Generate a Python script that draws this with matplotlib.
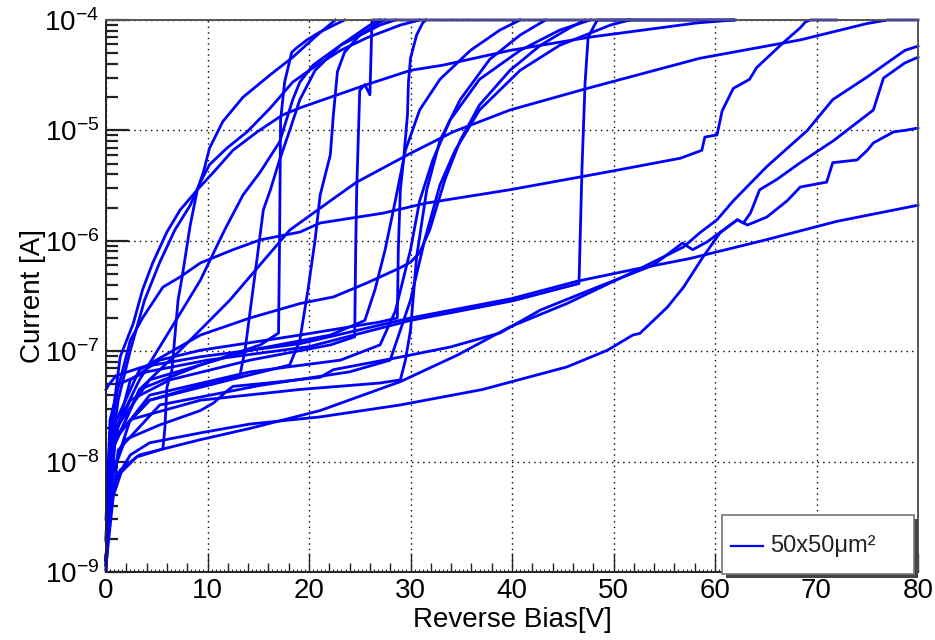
import numpy as np
import matplotlib
matplotlib.use("Agg")
import matplotlib.pyplot as plt
from matplotlib.lines import Line2D
from matplotlib.patches import Rectangle
from matplotlib.ticker import FixedLocator, LogLocator, NullFormatter

plt.rcParams['font.family'] = ['Liberation Sans', 'DejaVu Sans']
plt.rcParams['mathtext.fontset'] = 'custom'
plt.rcParams['mathtext.rm'] = 'Liberation Sans'
plt.rcParams['mathtext.it'] = 'Liberation Sans:italic'

# reverse bias [V] and leakage current [A] for every measured pixel
v01 = [0, 0.2, 0.6, 1.4, 2.7, 3.6, 4.6, 6.0, 7.3, 9.0, 9.6, 10.2, 11.5, 13.5, 16.2, 18.4, 20.8, 22.6]
i01 = [1.9e-9, 8.4e-9, 2.4e-8, 8.9e-8, 1.8e-7, 3.6e-7, 6.3e-7, 1.2e-6, 1.9e-6, 2.9e-6, 4.2e-6, 6.9e-6, 1.2e-5, 2.0e-5, 3.2e-5, 4.6e-5, 7.3e-5, 1e-4]

v02 = [0, 0.4, 1.2, 2.4, 3.8, 5.3, 6.8, 8.3, 9.3, 10.2, 11.9, 13.9, 16.2, 18.4, 20.4, 23.1, 25.7, 29.0, 30.9]
i02 = [1.28e-9, 1.03e-8, 3.6e-8, 1.02e-7, 2.9e-7, 6.4e-7, 1.26e-6, 2.1e-6, 3.4e-6, 4.9e-6, 6.9e-6, 9.7e-6, 1.6e-5, 2.74e-5, 3.7e-5, 5.3e-5, 6.9e-5, 9.0e-5, 1e-4]

v03 = [0, 0.4, 2.4, 3.6, 5.6, 7.3, 9.3, 12.5, 15.2, 19.1, 21.1, 27.3, 31.6, 39.8, 49.4, 56.6, 58.7, 59.0, 60.2, 60.7, 61.8, 63.4, 64.1, 66.7, 68.4, 68.9, 69.4, 72.0]
i03 = [3e-9, 2.4e-8, 1.26e-7, 2.0e-7, 3.8e-7, 4.7e-7, 6.3e-7, 8.3e-7, 1.02e-6, 1.2e-6, 1.45e-6, 1.78e-6, 2.2e-6, 2.9e-6, 4.2e-6, 5.6e-6, 6.6e-6, 8.7e-6, 9.1e-6, 1.5e-5, 2.4e-5, 2.9e-5, 3.7e-5, 6.2e-5, 8.5e-5, 9.6e-5, 1e-4, 1e-4]

v04 = [0, 0.3, 1, 3.6, 9.3, 19.1, 30, 40, 46.4, 52, 57.5, 65, 72, 80]
i04 = [4.5e-8, 5e-8, 6e-8, 7.2e-8, 8.9e-8, 1.17e-7, 2.0e-7, 3.0e-7, 4.3e-7, 5.5e-7, 6.9e-7, 1.02e-6, 1.5e-6, 2.1e-6]

v05 = [0, 0.4, 1.2, 4, 10, 20, 30, 40, 46.6, 46.9, 47.2, 47.5, 48.4, 62]
i05 = [2e-9, 1.5e-8, 5e-8, 6.5e-8, 8.3e-8, 1.1e-7, 1.9e-7, 2.85e-7, 4.1e-7, 4.7e-6, 2.7e-5, 7e-5, 1e-4, 1e-4]

v06 = [0, 0.6, 3.3, 7.3, 12.2, 18.1, 22.1, 24.7, 30.0, 34.2, 39.8, 47.4, 58.5, 68.4, 75.0, 77.0, 80]
i06 = [1.28e-9, 1.27e-8, 4.5e-8, 1.02e-7, 2.9e-7, 1.25e-6, 2.3e-6, 3.4e-6, 6.2e-6, 9.7e-6, 1.53e-5, 2.4e-5, 4.5e-5, 6.6e-5, 9.3e-5, 1e-4, 1e-4]

v07 = [0, 0.4, 1.5, 3.0, 5.6, 5.8, 6.0, 6.5, 7.1, 7.5, 8.3, 9.0, 11.0, 12.5, 14.9, 17.4, 19.1, 25.7, 30.0, 33.2, 39.8, 47.7, 58.2, 61.8]
i07 = [1.04e-9, 4.0e-9, 8.0e-9, 1.1e-8, 1.3e-8, 2.0e-8, 4.7e-8, 6.8e-8, 2.9e-7, 4.7e-7, 1.39e-6, 2.9e-6, 4.6e-6, 6.6e-6, 9.7e-6, 1.38e-5, 1.6e-5, 2.6e-5, 3.5e-5, 3.9e-5, 5.3e-5, 7.0e-5, 9.4e-5, 1e-4]

v08 = [0, 0.2, 0.9, 2.4, 4.3, 9.3, 14.2, 21.1, 29.0, 37.1, 45.4, 49.4, 51.9, 52.6, 55.3, 56.9, 58.8, 60.5, 62.2, 62.8, 63.5, 64.4, 66.1, 68.4, 71.7, 75.6, 76.6, 78.7, 80]
i08 = [1.04e-9, 2.96e-9, 6.8e-9, 1.15e-8, 1.48e-8, 1.82e-8, 2.19e-8, 2.54e-8, 3.26e-8, 4.5e-8, 7.2e-8, 1.02e-7, 1.4e-7, 1.45e-7, 2.5e-7, 3.8e-7, 7.1e-7, 1.18e-6, 1.55e-6, 1.45e-6, 1.79e-6, 2.9e-6, 3.6e-6, 5.1e-6, 8.1e-6, 1.53e-5, 2.98e-5, 4.08e-5, 4.6e-5]

v09 = [0, 0.4, 1.4, 3.3, 9.3, 14.2, 21.1, 29.0, 34.6, 39.8, 45.4, 51.9, 56.9, 58.5, 60.2, 61.8, 65.1, 69.1, 71.6, 75.0, 78.7, 80]
i09 = [1.16e-9, 4.5e-9, 8.4e-9, 1.15e-8, 1.58e-8, 2.0e-8, 2.9e-8, 5.3e-8, 9.2e-8, 1.66e-7, 2.7e-7, 5.2e-7, 8.8e-7, 1.18e-6, 1.55e-6, 2.3e-6, 4.7e-6, 1.0e-5, 1.9e-5, 3.05e-5, 5.3e-5, 5.8e-5]

v10 = [0, 0.4, 1.9, 5.3, 9.3, 10.6, 11.8, 12.5, 15.9, 21.1, 22.4, 29.0, 33.9, 38.8, 42.8, 48.7, 53.9, 56.8, 57.8, 59.2, 62.2, 63.2, 65.1, 67.1, 68.4, 71.0, 71.6, 74.0, 75.0, 75.6, 77.6, 78.7, 80]
i10 = [1.28e-9, 6.8e-9, 1.58e-8, 2.15e-8, 2.9e-8, 3.4e-8, 4.27e-8, 4.8e-8, 5.15e-8, 5.8e-8, 6.8e-8, 8.85e-8, 1.09e-7, 1.46e-7, 2.36e-7, 3.9e-7, 6.0e-7, 9.55e-7, 8.3e-7, 9.75e-7, 1.55e-6, 1.39e-6, 1.64e-6, 2.3e-6, 3.07e-6, 3.4e-6, 5.1e-6, 5.4e-6, 6.6e-6, 7.7e-6, 9.7e-6, 1.0e-5, 1.05e-5]

v11 = [0, 0.6, 2.4, 5.3, 9.3, 19.1, 27.0, 28.7, 28.8, 29.0, 29.3, 29.7, 29.8, 30.0, 30.6, 31.2, 31.5]
i11 = [1.28e-9, 1.27e-8, 5.5e-8, 8.3e-8, 1.02e-7, 1.4e-7, 1.84e-7, 2.0e-7, 8.3e-7, 2.9e-6, 5.2e-6, 1.38e-5, 2.74e-5, 4.5e-5, 7.3e-5, 9.4e-5, 1e-4]

v12 = [0, 0.4, 2.4, 9.3, 19.1, 27.0, 29.0, 29.5, 30.0, 30.6, 31.6, 32.9, 34.9, 37.8, 40.8, 43.3]
i12 = [1.16e-9, 6.8e-9, 2.4e-8, 3.6e-8, 4.5e-8, 5.15e-8, 5.5e-8, 8.3e-8, 1.55e-7, 7.1e-7, 2.9e-6, 8.1e-6, 1.9e-5, 4.4e-5, 7.3e-5, 1e-4]

v13 = [0, 0.6, 2.4, 6.3, 14.2, 22.1, 24.5, 24.6, 24.7, 25.0, 25.5, 26.0, 26.1, 26.2, 61.8]
i13 = [1.28e-9, 1.58e-8, 3.6e-8, 5.5e-8, 8.3e-8, 1.14e-7, 1.35e-7, 8.3e-7, 2.9e-6, 2.3e-5, 2.6e-5, 2.1e-5, 4.4e-5, 1e-4, 1e-4]

v14 = [0, 0.9, 4.3, 14.2, 22.1, 25.5, 26.5, 27.5, 28.5, 29.5, 30.9, 32.9, 35.9, 38.8, 40.8]
i14 = [1.28e-9, 1.95e-8, 5.5e-8, 1.02e-7, 1.4e-7, 1.9e-7, 3.6e-7, 8.3e-7, 2.3e-6, 6.6e-6, 1.53e-5, 2.9e-5, 5.3e-5, 8.1e-5, 1e-4]

v15 = [0, 0.9, 4.3, 14.2, 23.1, 27.0, 28.5, 30.0, 30.9, 32.2, 33.9, 36.8, 40.8, 44.7, 47.7]
i15 = [1.16e-9, 1.58e-8, 4.0e-8, 6.5e-8, 8.3e-8, 1.14e-7, 2.3e-7, 8.3e-7, 2.3e-6, 5.4e-6, 1.24e-5, 2.9e-5, 5.3e-5, 8.1e-5, 1e-4]

v16 = [0, 1.2, 5.3, 15.2, 24.0, 28.0, 30.0, 31.4, 32.9, 34.4, 36.8, 40.8, 44.7, 49.7, 51.6]
i16 = [1.16e-9, 1.27e-8, 3.26e-8, 4.9e-8, 6.5e-8, 8.3e-8, 2.9e-7, 1.02e-6, 3.2e-6, 6.6e-6, 1.53e-5, 3.5e-5, 5.9e-5, 9.0e-5, 1e-4]

v17 = [0, 0.6, 4.3, 9.3, 13.2, 13.7, 14.2, 14.9, 15.5, 16.2, 17.1, 18.1, 19.1, 20.6, 23.1, 26.0, 27.0]
i17 = [1.28e-9, 1.58e-8, 3.6e-8, 4.9e-8, 6.1e-8, 1.02e-7, 2.3e-7, 7.1e-7, 1.9e-6, 2.9e-6, 5.4e-6, 1.0e-5, 1.9e-5, 3.5e-5, 5.9e-5, 9.0e-5, 1e-4]

v18 = [0, 0.9, 3.3, 6.3, 9.3, 11.7, 13.5, 15.2, 17.1, 18.4, 19.1, 20.4, 23.1, 27.0, 28.5]
i18 = [1.28e-9, 1.95e-8, 5.5e-8, 1.55e-7, 4.4e-7, 1.26e-6, 2.6e-6, 4.2e-6, 7.85e-6, 1.9e-5, 2.74e-5, 3.9e-5, 5.9e-5, 9.0e-5, 1e-4]

v19 = [0, 0.6, 3.3, 9.3, 15.2, 17.0, 17.1, 17.2, 17.6, 18.3, 18.8, 19.8, 21.1, 23.1, 23.5]
i19 = [1.28e-9, 1.27e-8, 4.5e-8, 7.5e-8, 1.14e-7, 1.46e-7, 1.02e-6, 1.24e-5, 2.74e-5, 5.1e-5, 5.6e-5, 6.6e-5, 7.8e-5, 9.6e-5, 1e-4]

v20 = [0, 0.6, 4.3, 12.2, 18.1, 19.1, 19.9, 20.6, 21.1, 22.1, 22.4, 22.8, 23.5, 25.0, 27.0, 27.5]
i20 = [1.28e-9, 1.58e-8, 3.6e-8, 5.5e-8, 7.5e-8, 1.26e-7, 3.6e-7, 1.02e-6, 2.6e-6, 6.0e-6, 1.38e-5, 3.4e-5, 5.1e-5, 7.3e-5, 9.6e-5, 1e-4]

v21 = [0, 0.6, 3.3, 9.3, 14.2, 19.1, 22.4, 25.7, 29.0, 30.0, 30.9, 31.9, 33.4, 34.9, 36.8, 39.8, 42.8, 45.7, 47.2]
i21 = [1.28e-9, 1.95e-8, 6.8e-8, 1.4e-7, 2.0e-7, 2.7e-7, 3.1e-7, 4.15e-7, 5.7e-7, 6.4e-7, 7.8e-7, 1.26e-6, 3.6e-6, 8.1e-6, 1.7e-5, 3.5e-5, 5.9e-5, 8.5e-5, 1e-4]

curves = [(v01, i01), (v02, i02), (v03, i03), (v04, i04), (v05, i05), (v06, i06),
          (v07, i07), (v08, i08), (v09, i09), (v10, i10), (v11, i11), (v12, i12),
          (v13, i13), (v14, i14), (v15, i15), (v16, i16), (v17, i17), (v18, i18),
          (v19, i19), (v20, i20), (v21, i21)]

W, H = 935, 640
fig = plt.figure(figsize=(W / 100, H / 100), dpi=100)
ax = fig.add_axes([106 / W, 1 - 572 / H, (918 - 106) / W, (572 - 20) / H])

for v, i in curves:
    ax.plot(v, i, color='#0000ff', lw=2.0, clip_on=False, solid_joinstyle='round')

ax.set_yscale('log')
ax.set_xlim(0, 80)
ax.set_ylim(1e-9, 1e-4)

ax.xaxis.set_major_locator(FixedLocator(np.arange(0, 81, 10)))
ax.xaxis.set_minor_locator(FixedLocator(np.arange(0, 81, 2)))
ax.yaxis.set_major_locator(LogLocator(base=10))
ax.yaxis.set_minor_locator(LogLocator(base=10, subs=np.arange(2, 10)))
ax.yaxis.set_minor_formatter(NullFormatter())

ax.tick_params(axis='both', which='both', direction='in', top=False, right=False,
               labelsize=20, color='#222222')
ax.tick_params(axis='x', which='major', length=13.5, width=1.0, pad=4)
ax.tick_params(axis='x', which='minor', length=6.5, width=1.0)
ax.tick_params(axis='y', which='major', length=16.5, width=1.6, pad=5)
ax.tick_params(axis='y', which='minor', length=8.5, width=1.6)

# third level of ticks along the bias axis
ax.vlines(np.arange(0, 80.01, 0.4), 0, 3.5 / 552, transform=ax.get_xaxis_transform(),
          color='#222222', lw=0.8)

ax.grid(True, which='major', color='black', linestyle=(0, (1, 3)), linewidth=1.0)

for s in ['left', 'bottom']:
    ax.spines[s].set_color('#222222')
    ax.spines[s].set_linewidth(1.4)
for s in ['top', 'right']:
    ax.spines[s].set_color('#555555')
    ax.spines[s].set_linewidth(1.4)

ax.set_xlabel('Reverse Bias[V]', fontsize=20)
ax.set_ylabel('Current [A]', fontsize=20)
ax.xaxis.set_label_coords(0.5, (572 - 607) / 552)
ax.yaxis.set_label_coords((46 - 106) / 812, 0.5)

# legend box with a drop shadow
bx0, by0, bx1, by1 = 722, 515, 914, 574
fig.add_artist(Rectangle((bx0 / W + 4 / W, 1 - by1 / H - 4 / H), (bx1 - bx0) / W, (by1 - by0) / H,
                         transform=fig.transFigure, facecolor='#444444', edgecolor='none', zorder=5))
fig.add_artist(Rectangle((bx0 / W, 1 - by1 / H), (bx1 - bx0) / W, (by1 - by0) / H,
                         transform=fig.transFigure, facecolor='white', edgecolor='#777777',
                         linewidth=1.2, zorder=6))
fig.add_artist(Line2D([731 / W, 763 / W], [1 - 546 / H, 1 - 546 / H], transform=fig.transFigure,
                      color='#0000ff', lw=1.6, zorder=7))
fig.text(770 / W, 1 - 546 / H, '50x50μm²', fontsize=17, va='center', ha='left', color='#222222', zorder=7)

fig.savefig('out.png', dpi=100, facecolor='white')
